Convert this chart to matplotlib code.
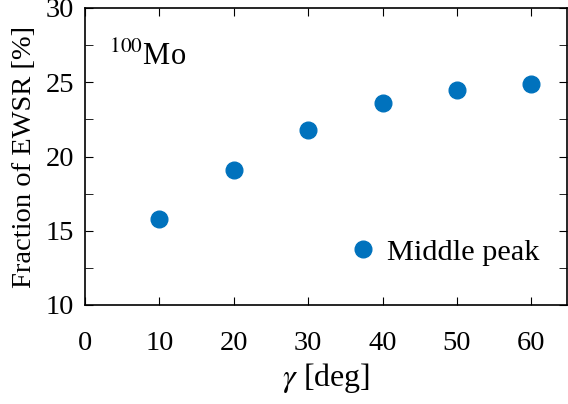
import matplotlib
matplotlib.use("Agg")
import matplotlib.pyplot as plt
from matplotlib.ticker import MultipleLocator

plt.rcParams['font.family'] = ['Liberation Serif', 'DejaVu Serif']
plt.rcParams['mathtext.fontset'] = 'stix'

gamma = [10, 20, 30, 40, 50, 60]
fraction = [15.8, 19.1, 21.8, 23.6, 24.5, 24.9]
series_label = "Middle peak"

fig = plt.figure(figsize=(5.68, 4.04), dpi=100)
ax = fig.add_axes([85/568, 99/404, 482/568, 297/404])
ax.plot(gamma, fraction, 'o', color='#0072BD', markersize=12, label=series_label)
ax.set_xlim(0, 64.8)
ax.set_ylim(10, 30)
ax.xaxis.set_major_locator(MultipleLocator(10))
ax.yaxis.set_major_locator(MultipleLocator(5))
ax.yaxis.set_minor_locator(MultipleLocator(2.5))
ax.tick_params(which='both', direction='in', top=True, right=True, labelsize=20.5)
ax.tick_params(axis='x', pad=19)
ax.tick_params(axis='y', pad=8)
ax.tick_params(which='major', length=6)
ax.tick_params(which='minor', length=6)
for s in ax.spines.values():
    s.set_linewidth(1.2)
ax.set_xlabel(r'$\gamma$ [deg]', fontsize=23, labelpad=3)
ax.set_ylabel('Fraction of EWSR [%]', fontsize=20.5, labelpad=6)
ax.text(0.05, 0.81, r'$^{100}$Mo', transform=ax.transAxes, fontsize=22)
ax.legend(loc='lower right', frameon=False, fontsize=21.8, handletextpad=0.3,
          handlelength=1.0, bbox_to_anchor=(1.0, 0.04))
fig.savefig('out.png', dpi=100)
